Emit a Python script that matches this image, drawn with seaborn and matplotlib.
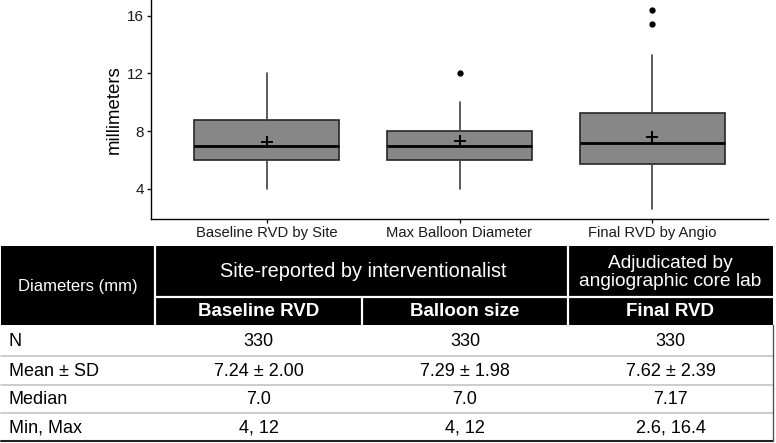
import matplotlib
matplotlib.use("Agg")
import matplotlib.pyplot as plt
import seaborn as sns
from matplotlib.patches import Rectangle

# ---- box plot summary (mm) ----
GROUPS = ["Baseline RVD by Site", "Max Balloon Diameter", "Final RVD by Angio"]
WHISK_LO = [4.0, 4.0, 2.6]
Q1 = [6.0, 6.0, 5.73]
MEDIANS = [7.0, 7.0, 7.17]
Q3 = [8.75, 8.0, 9.24]
WHISK_HI = [12.0, 10.0, 13.3]
OUTLIERS = [[], [12.0], [15.4, 16.4]]
MEANS = [7.24, 7.29, 7.62]
Y_TICKS = [4, 8, 12, 16]

# ---- summary table ----
ROW_LABELS = ["N", "Mean ± SD", "Median", "Min, Max"]
BASELINE_COL = ["330", "7.24 ± 2.00", "7.0", "4, 12"]
BALLOON_COL = ["330", "7.29 ± 1.98", "7.0", "4, 12"]
FINAL_COL = ["330", "7.62 ± 2.39", "7.17", "2.6, 16.4"]
HEAD_STUB = "Diameters (mm)"
HEAD_SITE = "Site-reported by interventionalist"
HEAD_CORE = "Adjudicated by\nangiographic core lab"
SUB_HEADS = ["Baseline RVD", "Balloon size", "Final RVD"]

INK = "#000000"
BOX_FILL = "#878787"

sns.set_theme(style="white")
plt.rcParams["font.family"] = ["Liberation Sans", "DejaVu Sans"]

W, H = 776, 443
fig = plt.figure(figsize=(W / 100, H / 100), dpi=100)
fig.patch.set_facecolor("white")

# table drawn in pixel coordinates on a full-figure axes
tab = fig.add_axes([0, 0, 1, 1])
tab.set_xlim(0, W)
tab.set_ylim(H, 0)
tab.axis("off")

x0, x1 = 1, 773
cols = [155, 362, 568]
y_top, y_mid, y_head = 246, 297, 325
row_edges = [325, 356, 384.5, 413, 441]

tab.add_patch(Rectangle((x0, y_top), x1 - x0, y_head - y_top, facecolor="black", edgecolor="none"))
white = dict(color="white", lw=1.6, solid_capstyle="butt")
tab.plot([cols[0], cols[0]], [y_top, y_head], **white)
tab.plot([cols[2], cols[2]], [y_top, y_head], **white)
tab.plot([cols[0], x1], [y_mid, y_mid], **white)
tab.plot([cols[1], cols[1]], [y_mid, y_head], **white)

tab.text((x0 + cols[0]) / 2, (y_top + y_head) / 2 + 1, HEAD_STUB, color="white",
         ha="center", va="center", fontsize=12)
tab.text((cols[0] + cols[2]) / 2 + 2, (y_top + y_mid) / 2, HEAD_SITE, color="white",
         ha="center", va="center", fontsize=14.3)
tab.text((cols[2] + x1) / 2, (y_top + y_mid) / 2 + 1, HEAD_CORE, color="white",
         ha="center", va="center", fontsize=13.8, linespacing=1.12)
sub_centers = [(cols[0] + cols[1]) / 2, (cols[1] + cols[2]) / 2, (cols[2] + x1) / 2]
for cx, label in zip(sub_centers, SUB_HEADS):
    tab.text(cx, (y_mid + y_head) / 2 + 1, label, color="white", ha="center", va="center",
             fontsize=13.5, fontweight="bold")

for i, label in enumerate(ROW_LABELS):
    cy = (row_edges[i] + row_edges[i + 1]) / 2 + 1
    tab.text(9, cy, label, ha="left", va="center", fontsize=13, color=INK)
    for cx, col in zip(sub_centers, [BASELINE_COL, BALLOON_COL, FINAL_COL]):
        tab.text(cx, cy, col[i], ha="center", va="center", fontsize=13, color=INK)
for y in row_edges[1:-1]:
    tab.plot([x0, x1], [y, y], color="#c4c4c4", lw=1.2)
tab.plot([x0, x1], [row_edges[-1], row_edges[-1]], color="#222222", lw=1.5)
tab.plot([x1, x1], [y_head, row_edges[-1]], color="#555555", lw=1.0)

# box plot
ax = fig.add_axes([151 / W, 1 - 219 / H, (768 - 151) / W, 219 / H])
stats = [
    dict(whislo=lo, q1=a, med=m, q3=b, whishi=hi, fliers=out, label=g)
    for g, lo, a, m, b, hi, out in zip(GROUPS, WHISK_LO, Q1, MEDIANS, Q3, WHISK_HI, OUTLIERS)
]
positions = list(range(len(GROUPS)))
ax.bxp(
    stats,
    positions=positions,
    widths=0.75,
    patch_artist=True,
    showcaps=False,
    manage_ticks=False,
    boxprops=dict(facecolor=BOX_FILL, edgecolor="#262626", linewidth=1.2),
    medianprops=dict(color="black", linewidth=2.0),
    whiskerprops=dict(color="#404040", linewidth=1.2),
    flierprops=dict(marker="o", markerfacecolor="black", markeredgecolor="black", markersize=3.5),
)
sns.scatterplot(x=positions, y=MEANS, marker="+", s=75, color="black", linewidth=1.4,
                ax=ax, zorder=5, legend=False)

ax.set_xlim(-0.6, len(GROUPS) - 0.4)
ax.set_ylim(1.91, 17.09)
ax.set_xticks(positions, GROUPS)
ax.set_yticks(Y_TICKS)
ax.tick_params(axis="x", labelsize=10.6, colors="#1a1a1a", length=3, width=1, pad=2, bottom=True)
ax.tick_params(axis="y", labelsize=11, colors="#1a1a1a", length=3, width=1, pad=2, left=True)
ax.set_ylabel("millimeters", fontsize=13.4, color="black", labelpad=3)
ax.set_xlabel("")
for side in ["top", "right"]:
    ax.spines[side].set_visible(False)
for side in ["left", "bottom"]:
    ax.spines[side].set_color("black")
    ax.spines[side].set_linewidth(1.0)
ax.set_facecolor("none")
ax.grid(False)

fig.savefig("out.png", dpi=100)
